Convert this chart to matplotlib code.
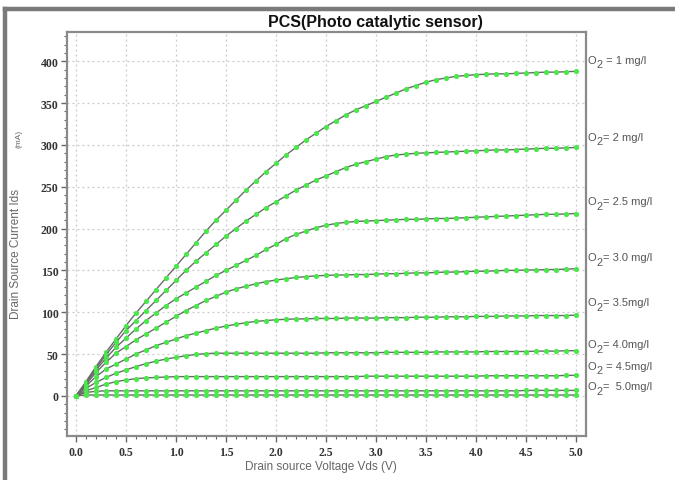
import numpy as np
import matplotlib
matplotlib.use("Agg")
import matplotlib.pyplot as plt
from matplotlib.lines import Line2D

# ---- data ----
vds = np.linspace(0.0, 5.0, 51)

ids_1 = [0, 17, 35, 52, 68, 84, 99, 113, 127, 141, 155,
         169, 183, 197, 210, 222, 234, 246, 257, 268, 278,
         288, 297, 306, 314, 322, 329, 336, 342, 347, 352,
         357, 362, 367, 371, 375, 378, 380, 382, 383, 384,
         384.5, 385, 385, 385.5, 386, 386.5, 387, 387, 387.5, 388]
ids_2 = [0, 16, 33, 49, 64, 78, 90, 102, 114, 126, 138,
         150, 161, 171, 181, 191, 200, 209, 217, 225, 232,
         239, 246, 252, 258, 263, 268, 273, 277, 280, 283,
         286, 288, 289, 290, 290.5, 291, 291.5, 292, 292.5, 293,
         293.5, 294, 294, 294.5, 295, 295.5, 296, 296, 296.5, 297]
ids_25 = [0, 15, 31, 45, 58, 69, 80, 90, 99, 108, 116,
          123, 130, 137, 144, 150, 156, 162, 168, 175, 181,
          188, 193, 197, 201, 204, 206, 207.5, 208.5, 209, 209.5,
          210, 210.5, 211, 211, 211.5, 212, 212, 212.5, 213, 213.5,
          214, 214.5, 215, 215.5, 216, 216.5, 217, 217, 217.5, 218]
ids_30 = [0, 14, 28, 40, 51, 59, 67, 74, 81, 88, 95,
          102, 108, 114, 119, 124, 128, 131, 134, 136.5, 138.5,
          140, 141.5, 142.5, 143.5, 144, 144.5, 144.5, 145, 145, 145.5,
          146, 146, 146.5, 147, 147, 147.5, 148, 148, 148.5, 149,
          149, 149.5, 150, 150, 150.5, 150.5, 151, 151, 151.5, 152]
ids_35 = [0, 12, 23, 32, 38, 44, 50, 55, 60, 64, 68,
          72, 75, 78, 81, 83.5, 85.5, 87.5, 89, 90, 91,
          91.5, 92, 92, 92.5, 92.5, 92.5, 93, 93, 93, 93,
          93.5, 93.5, 93.5, 94, 94, 94, 94.5, 94.5, 94.5, 95,
          95, 95, 95.5, 95.5, 95.5, 96, 96, 96, 96, 96.5]
ids_40 = [0, 9, 16, 22, 27, 31, 35, 38.5, 41.5, 44, 46,
          48, 49.5, 50.5, 51, 51, 51, 51, 51, 51, 51,
          51, 51, 51, 51, 51.5, 51.5, 51.5, 51.5, 51.5, 51.5,
          52, 52, 52, 52, 52, 52.5, 52.5, 52.5, 52.5, 52.5,
          53, 53, 53, 53, 53, 53.5, 53.5, 53.5, 54, 54]
ids_45 = [0, 6, 10, 14, 17, 19, 20.5, 21.5, 22, 22.5, 23,
          23, 23, 23, 23, 23, 23, 23, 23, 23, 23,
          23, 23, 23, 23, 23, 23, 23, 23, 23.5, 23.5,
          23.5, 23.5, 23.5, 23.5, 23.5, 23.5, 23.5, 23.5, 23.5, 23.5,
          24, 24, 24, 24, 24, 24, 24, 24, 24.5, 24.5]
ids_50a = [0, 4, 5.5, 6, 6, 6, 6, 6, 6, 6, 6,
           6, 6, 6, 6, 6, 6, 6, 6, 6, 6,
           6, 6, 6, 6, 6, 6, 6, 6, 6, 6,
           6, 6, 6, 6, 6, 6, 6, 6, 6, 6,
           6, 6, 6, 6, 6.5, 6.5, 6.5, 6.5, 6.5, 6.5]
ids_50b = [0, 1, 1, 1, 1, 1, 1, 1, 1, 1, 1,
           1, 1, 1, 1, 1, 1, 1, 1, 1, 1,
           1, 1, 1, 1, 1, 1, 1, 1, 1, 1,
           1, 1, 1, 1, 1, 1, 1, 1, 1, 1,
           1, 1, 1, 1, 1, 1, 1, 1, 1, 1]

series = [ids_1, ids_2, ids_25, ids_30, ids_35, ids_40, ids_45, ids_50a, ids_50b]

# label text after "O2"
label_rest = [" = 1 mg/l", "= 2 mg/l", "= 2.5 mg/l", "= 3.0 mg/l",
              "= 3.5mg/l", "= 4.0mg/l", " = 4.5mg/l", "=  5.0mg/l"]
label_y = [402, 310, 233, 166, 112, 62, 36, 12]

x_ticks = [0.0, 0.5, 1.0, 1.5, 2.0, 2.5, 3.0, 3.5, 4.0, 4.5, 5.0]
y_ticks = [0, 50, 100, 150, 200, 250, 300, 350, 400]

# ---- style ----
plt.rcParams['font.family'] = ['Liberation Sans', 'DejaVu Sans']

fig = plt.figure(figsize=(6.75, 4.81), dpi=100)
ax = fig.add_axes([67/675, 1-437/481, (586-67)/675, (437-33)/481])

for s in series:
    ax.plot(vds, s, color='#6a6a6a', lw=1.0, marker='o', ms=2.7,
            mfc='#4be84b', mec='#4be84b', zorder=3)

ax.set_xlim(-0.09, 5.1)
ax.set_ylim(-48, 435)
ax.set_xticks(x_ticks)
ax.set_xticklabels([f"{v:.1f}" for v in x_ticks])
ax.set_yticks(y_ticks)
ax.set_xticks(np.arange(-0.0, 5.05, 0.1), minor=True)
ax.set_yticks(np.arange(-40, 431, 10), minor=True)

ax.grid(True, which='major', linestyle=(0, (1.5, 2.5)), color='#c8c8c8', lw=0.9)
ax.set_axisbelow(True)

for sp in ax.spines.values():
    sp.set_color('#8a8a8a')
    sp.set_linewidth(1.6)

ax.tick_params(which='major', length=4, width=1.0, color='#666666', direction='out')
ax.tick_params(which='minor', length=2.5, width=0.8, color='#666666', direction='out')
for lab in ax.get_xticklabels() + ax.get_yticklabels():
    lab.set_fontfamily('Liberation Serif')
    lab.set_fontweight('bold')
    lab.set_fontsize(8.5)
    lab.set_color('#333333')
ax.tick_params(axis='x', pad=3)
ax.tick_params(axis='y', pad=2)

txt_col = '#555555'
for rest, yv in zip(label_rest, label_y):
    ax.annotate("O", xy=(5.115, yv), xytext=(0, 0), textcoords='offset points',
                ha='left', va='center', fontsize=8.0, color=txt_col, annotation_clip=False)
    ax.annotate("2", xy=(5.115, yv), xytext=(6.6, -3.4), textcoords='offset points',
                ha='left', va='center', fontsize=7.8, color=txt_col, annotation_clip=False)
    ax.annotate(rest, xy=(5.115, yv), xytext=(11.2, 0), textcoords='offset points',
                ha='left', va='center', fontsize=8.0, color=txt_col, annotation_clip=False)

fig.text(375/675, 1-22/481, "PCS(Photo catalytic sensor)", ha='center', va='center',
         fontsize=11.5, fontweight='bold', color='#111111')
fig.text(321/675, 1-467/481, "Drain source Voltage Vds (V)", ha='center', va='center',
         fontsize=8.5, color='#666666')
fig.text(16/675, 1-254/481, "Drain Source Current Ids", ha='center', va='center',
         rotation=90, fontsize=8.5, color='#666666')
fig.text(19/675, 1-139/481, "(mA)", ha='center', va='center',
         rotation=90, fontsize=6, color='#666666')

# outer frame (left and top borders)
fig.add_artist(Line2D([5/675, 5/675], [0, 1-9.5/481], transform=fig.transFigure,
                      color='#7a7a7a', lw=3.2))
fig.add_artist(Line2D([5/675, 1], [1-9.5/481, 1-9.5/481], transform=fig.transFigure,
                      color='#7a7a7a', lw=3.2))

fig.savefig("out.png", dpi=100)
